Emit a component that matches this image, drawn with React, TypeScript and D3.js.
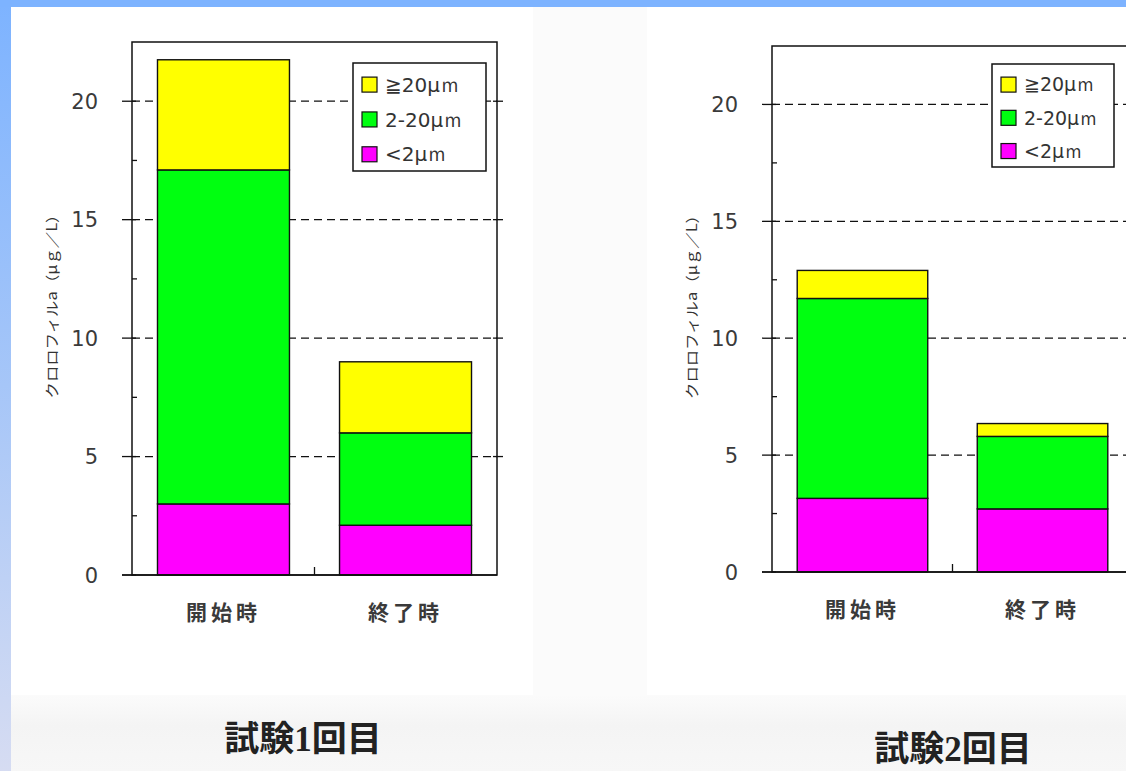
import React, { useEffect, useRef } from "react";
import * as d3 from "d3";

// categories and size classes
const categories = ["開始時", "終了時"];
const sizeKeys = ["small", "mid", "large"];
const legendLabels = ["≧20μｍ", "2-20μｍ", "<2μｍ"]; // top to bottom
const legendKeys = ["large", "mid", "small"];
const colors: Record<string, string> = {
  small: "#ff00ff",
  mid: "#00ff10",
  large: "#ffff00",
};

// chlorophyll a (μg/L) by size fraction
const trial1Small = [3.0, 2.1];
const trial1Mid = [14.1, 3.9];
const trial1Large = [4.65, 3.0];

const trial2Small = [3.15, 2.7];
const trial2Mid = [8.55, 3.1];
const trial2Large = [1.2, 0.55];

const yTicks = [0, 5, 10, 15, 20];
const yMinorTicks = [2.5, 7.5, 12.5, 17.5];
const yMax = 22.5;
const yTitle = "クロロフィルa（μｇ／L）";

const numFont = "'DejaVu Sans', sans-serif";

interface PanelProps {
  small: number[];
  mid: number[];
  large: number[];
  title: string;
  left: number;
  right: number;
  top: number;
  bottom: number;
  legend: { dx: number; dy: number; w: number; h: number; font: number };
  titlePos: { x: number; y: number };
}

const Panel: React.FC<PanelProps> = ({
  small,
  mid,
  large,
  title,
  left,
  right,
  top,
  bottom,
  legend,
  titlePos,
}) => {
  const gRef = useRef<SVGGElement | null>(null);

  useEffect(() => {
    if (!gRef.current) return;
    const g = d3.select(gRef.current);
    g.selectAll("*").remove();

    const rows = categories.map((c, i) => ({
      cat: c,
      small: small[i],
      mid: mid[i],
      large: large[i],
    }));

    const x = d3
      .scaleBand<string>()
      .domain(categories)
      .range([left, right])
      .paddingInner(0.275)
      .paddingOuter(0.14);

    const y = d3.scaleLinear().domain([0, yMax]).range([bottom, top]);

    // dashed grid lines
    g.append("g")
      .selectAll("line")
      .data(yTicks.filter((t) => t > 0))
      .join("line")
      .attr("x1", left)
      .attr("x2", right)
      .attr("y1", (d) => y(d))
      .attr("y2", (d) => y(d))
      .attr("stroke", "#111")
      .attr("stroke-width", 1.2)
      .attr("stroke-dasharray", "8,5");

    // stacked bars
    const stacked = d3.stack<any>().keys(sizeKeys)(rows);
    g.append("g")
      .selectAll("g")
      .data(stacked)
      .join("g")
      .attr("fill", (s) => colors[s.key])
      .selectAll("rect")
      .data((s) => s)
      .join("rect")
      .attr("x", (d) => x(d.data.cat)!)
      .attr("width", x.bandwidth())
      .attr("y", (d) => y(d[1]))
      .attr("height", (d) => y(d[0]) - y(d[1]))
      .attr("stroke", "#111")
      .attr("stroke-width", 1.4);

    // frame
    g.append("rect")
      .attr("x", left)
      .attr("y", top)
      .attr("width", right - left)
      .attr("height", bottom - top)
      .attr("fill", "none")
      .attr("stroke", "#111")
      .attr("stroke-width", 1.5);

    // baseline extends past the axis
    g.append("line")
      .attr("x1", left - 10)
      .attr("x2", right)
      .attr("y1", bottom)
      .attr("y2", bottom)
      .attr("stroke", "#111")
      .attr("stroke-width", 1.5);

    // major ticks
    g.append("g")
      .selectAll("line")
      .data(yTicks)
      .join("line")
      .attr("x1", left - 10)
      .attr("x2", left + 4)
      .attr("y1", (d) => y(d))
      .attr("y2", (d) => y(d))
      .attr("stroke", "#111")
      .attr("stroke-width", 1.3);

    g.append("g")
      .selectAll("line")
      .data(yTicks.filter((t) => t > 0))
      .join("line")
      .attr("x1", right - 4)
      .attr("x2", right + 6)
      .attr("y1", (d) => y(d))
      .attr("y2", (d) => y(d))
      .attr("stroke", "#111")
      .attr("stroke-width", 1.3);

    // minor ticks
    g.append("g")
      .selectAll("line")
      .data(yMinorTicks)
      .join("line")
      .attr("x1", left)
      .attr("x2", left + 5)
      .attr("y1", (d) => y(d))
      .attr("y2", (d) => y(d))
      .attr("stroke", "#111")
      .attr("stroke-width", 1.3);

    // category separator tick
    const sep = (x(categories[0])! + x.bandwidth() + x(categories[1])!) / 2;
    g.append("line")
      .attr("x1", sep)
      .attr("x2", sep)
      .attr("y1", bottom)
      .attr("y2", bottom - 8)
      .attr("stroke", "#111")
      .attr("stroke-width", 1.3);

    // tick labels
    g.append("g")
      .selectAll("text")
      .data(yTicks)
      .join("text")
      .attr("x", left - 34)
      .attr("y", (d) => y(d))
      .attr("dy", "0.36em")
      .attr("text-anchor", "end")
      .attr("font-family", numFont)
      .attr("font-size", 21)
      .attr("fill", "#3a3a3a")
      .text((d) => d);

    // category labels
    g.append("g")
      .selectAll("text")
      .data(categories)
      .join("text")
      .attr("x", (d) => x(d)! + x.bandwidth() / 2)
      .attr("y", bottom + 38)
      .attr("dy", "0.35em")
      .attr("text-anchor", "middle")
      .attr("font-family", "'Noto Sans CJK JP', sans-serif")
      .attr("font-weight", 700)
      .attr("font-size", 21)
      .attr("letter-spacing", 4)
      .attr("fill", "#3a3a3a")
      .text((d) => d);

    // y-axis title
    const cy = (top + bottom) / 2 - 6;
    g.append("text")
      .attr("transform", `translate(${left - 80},${cy}) rotate(-90)`)
      .attr("text-anchor", "middle")
      .attr("dy", "0.35em")
      .attr("font-family", "'Noto Sans CJK JP', sans-serif")
      .attr("font-size", 14)
      .attr("textLength", 192)
      .attr("lengthAdjust", "spacingAndGlyphs")
      .attr("fill", "#333")
      .text(yTitle);

    // legend
    const lx = left + legend.dx;
    const ly = top + legend.dy;
    const lg = g.append("g");
    lg.append("rect")
      .attr("x", lx)
      .attr("y", ly)
      .attr("width", legend.w)
      .attr("height", legend.h)
      .attr("fill", "#fff")
      .attr("stroke", "#111")
      .attr("stroke-width", 1.5);
    const rowH = legend.h / 3.1;
    const item = lg
      .selectAll("g")
      .data(legendKeys)
      .join("g")
      .attr(
        "transform",
        (_, i) => `translate(${lx + 9},${ly + legend.h * 0.2 + i * rowH})`
      );
    item
      .append("rect")
      .attr("x", 0)
      .attr("y", -7.5)
      .attr("width", 15)
      .attr("height", 15)
      .attr("fill", (d) => colors[d])
      .attr("stroke", "#111")
      .attr("stroke-width", 1.2);
    item
      .append("text")
      .attr("x", 23)
      .attr("dy", "0.36em")
      .attr("font-family", numFont)
      .attr("font-size", legend.font)
      .attr("fill", "#333")
      .text((_, i) => legendLabels[i]);

    // panel caption
    g.append("text")
      .attr("x", titlePos.x)
      .attr("y", titlePos.y)
      .attr("dy", "0.35em")
      .attr("text-anchor", "middle")
      .attr("font-family", "'Liberation Serif', 'Noto Sans CJK JP', serif")
      .attr("font-weight", 700)
      .attr("font-size", 35)
      .attr("fill", "#222")
      .text(title);
  }, [small, mid, large, title, left, right, top, bottom, legend, titlePos]);

  return <g ref={gRef} />;
};

export default function App() {
  return (
    <svg
      width={1126}
      height={771}
      style={{ position: "absolute", left: 0, top: 0, display: "block" }}
    >
      <defs>
        <linearGradient id="leftStrip" x1="0" y1="0" x2="0" y2="1">
          <stop offset="0" stopColor="#7db3ff" />
          <stop offset="0.5" stopColor="#a6c6f8" />
          <stop offset="1" stopColor="#d6dcf2" />
        </linearGradient>
        <linearGradient id="bottomBand" x1="0" y1="0" x2="0" y2="1">
          <stop offset="0" stopColor="#fbfbfb" />
          <stop offset="0.4" stopColor="#f4f4f4" />
          <stop offset="1" stopColor="#f7f7f7" />
        </linearGradient>
      </defs>
      <rect x={0} y={0} width={1126} height={771} fill="#ffffff" />
      <rect x={533} y={7} width={114} height={690} fill="#fbfbfb" />
      <rect x={11} y={695} width={1115} height={76} fill="url(#bottomBand)" />
      <rect x={0} y={0} width={11} height={771} fill="url(#leftStrip)" />
      <rect x={0} y={0} width={1126} height={7} fill="#7db3ff" />
      <Panel
        small={trial1Small}
        mid={trial1Mid}
        large={trial1Large}
        title="試験1回目"
        left={132}
        right={497}
        top={42}
        bottom={575}
        legend={{ dx: 221, dy: 21, w: 133, h: 108, font: 20 }}
        titlePos={{ x: 303, y: 739 }}
      />
      <Panel
        small={trial2Small}
        mid={trial2Mid}
        large={trial2Large}
        title="試験2回目"
        left={772}
        right={1133}
        top={46}
        bottom={572}
        legend={{ dx: 220, dy: 18, w: 122, h: 103, font: 19 }}
        titlePos={{ x: 953, y: 749 }}
      />
    </svg>
  );
}
